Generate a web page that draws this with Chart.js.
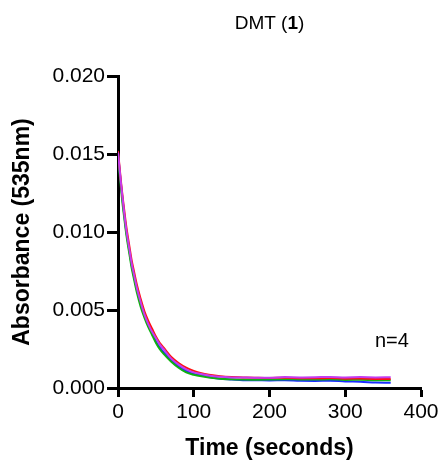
<!DOCTYPE html>
<html>
<head>
<meta charset="utf-8">
<script src="https://cdn.jsdelivr.net/npm/chart.js@4/dist/chart.umd.min.js"></script>
<style>
    html, body { margin: 0; padding: 0; background: #fff; }
    #wrap { width: 445px; height: 464px; }
</style>
</head>
<body>
<div id="wrap"><canvas id="kineticsChart" width="445" height="464"></canvas></div>
<script>
// Time points (seconds)
const times = [0, 2, 4, 6, 8, 10, 12, 15, 18, 21, 25, 30, 35, 40, 45, 50, 55, 60, 70, 80, 90, 100,
    110, 120, 135, 150, 165, 180, 200, 220, 240, 260, 280, 300, 320, 340, 360];

// Absorbance at 535nm for the four runs (n=4)
const runRed = [0.0152, 0.0142, 0.0132, 0.0123, 0.0115, 0.0107, 0.0100, 0.0091, 0.0082, 0.0075, 0.0066,
    0.0057, 0.0049, 0.0043, 0.0038, 0.0033, 0.0029, 0.0026, 0.0020, 0.0016, 0.0013, 0.0011,
    0.00095, 0.00085, 0.00075, 0.0007, 0.00068, 0.00066, 0.00064, 0.00066, 0.00063, 0.00062,
    0.00064, 0.0006, 0.00061, 0.00058, 0.00057];
const runBlue = [0.0151, 0.0140, 0.0130, 0.0121, 0.0112, 0.0104, 0.0097, 0.0088, 0.0079, 0.0072, 0.0063,
    0.0054, 0.0047, 0.0041, 0.0036, 0.0030, 0.0026, 0.0023, 0.0018, 0.0014, 0.0011, 0.0009,
    0.0008, 0.0007, 0.0006, 0.00055, 0.0005, 0.0005, 0.00048, 0.0005, 0.00046, 0.00045,
    0.00047, 0.00042, 0.0004, 0.00035, 0.00033];
const runGreen = [0.0150, 0.0138, 0.0128, 0.0118, 0.0110, 0.0102, 0.0095, 0.0086, 0.0077, 0.0070, 0.0061,
    0.0052, 0.0045, 0.0039, 0.0034, 0.0029, 0.0025, 0.0022, 0.0017, 0.0013, 0.0010, 0.00085,
    0.00075, 0.00068, 0.0006, 0.00056, 0.00054, 0.00053, 0.00054, 0.00056, 0.00055, 0.00054,
    0.00056, 0.00052, 0.00053, 0.0005, 0.0005];
const runPurple = [0.0151, 0.0141, 0.0131, 0.0122, 0.0113, 0.0105, 0.0098, 0.0089, 0.0080, 0.0073, 0.0064,
    0.0055, 0.0047, 0.0041, 0.0036, 0.0032, 0.0028, 0.0025, 0.0019, 0.0015, 0.0012, 0.0010,
    0.0009, 0.0008, 0.00072, 0.00068, 0.00067, 0.00066, 0.00066, 0.0007, 0.00068, 0.00069,
    0.00071, 0.00068, 0.0007, 0.00068, 0.00069];

// Axis ticks
const xTicks = [0, 100, 200, 300, 400];
const yTicks = [0, 0.005, 0.010, 0.015, 0.020];

function toPoints(values) {
    return values.map((v, i) => ({ x: times[i], y: v }));
}

function makeRun(values, color) {
    return {
        data: toPoints(values),
        borderColor: color,
        borderWidth: 2,
        pointRadius: 0,
        fill: false,
        cubicInterpolationMode: 'monotone'
    };
}

/**
 * Title with a bold compound number, plus the n=4 note
 */
const annotationsPlugin = {
    id: 'annotations',
    afterDraw(chart) {
        const ctx = chart.ctx;
        const area = chart.chartArea;
        ctx.save();
        ctx.fillStyle = '#000';
        ctx.textBaseline = 'middle';

        // "DMT (1)" with the 1 in bold
        const parts = [
            { text: 'DMT (', font: '19px "Liberation Sans", Arial, sans-serif' },
            { text: '1', font: 'bold 19px "Liberation Sans", Arial, sans-serif' },
            { text: ')', font: '19px "Liberation Sans", Arial, sans-serif' }
        ];
        let total = 0;
        parts.forEach(p => { ctx.font = p.font; p.w = ctx.measureText(p.text).width; total += p.w; });
        let x = (area.left + area.right) / 2 - total / 2;
        ctx.textAlign = 'left';
        parts.forEach(p => { ctx.font = p.font; ctx.fillText(p.text, x, 24); x += p.w; });

        ctx.font = '20px "Liberation Sans", Arial, sans-serif';
        ctx.fillText('n=4', 375, 341);
        ctx.restore();
    }
};

const axisFont = { family: '"Liberation Sans", Arial, sans-serif', size: 21 };
const titleFont = { family: '"Liberation Sans", Arial, sans-serif', size: 23, weight: 'bold' };

new Chart(document.getElementById('kineticsChart').getContext('2d'), {
    type: 'line',
    data: {
        datasets: [
            makeRun(runPurple, '#c43cf0'),
            makeRun(runRed, '#ff1010'),
            makeRun(runGreen, '#10b010'),
            makeRun(runBlue, '#1a2cff')
        ]
    },
    options: {
        responsive: false,
        animation: false,
        layout: { padding: { top: 76, right: 24, bottom: 0, left: 0 } },
        plugins: {
            legend: { display: false },
            tooltip: { enabled: false }
        },
        scales: {
            x: {
                type: 'linear',
                min: 0,
                max: 400,
                afterFit: scale => { scale.height = 76; },
                afterBuildTicks: scale => { scale.ticks = xTicks.map(v => ({ value: v })); },
                border: { color: '#000', width: 3 },
                grid: { drawOnChartArea: false, drawTicks: true, tickLength: 9, tickWidth: 3, tickColor: '#000' },
                ticks: { color: '#000', font: axisFont, padding: 3, maxRotation: 0 },
                title: { display: true, text: 'Time (seconds)', color: '#000', font: titleFont, padding: { top: 0, bottom: 2 } }
            },
            y: {
                type: 'linear',
                min: 0,
                max: 0.02,
                afterFit: scale => { scale.width = 118; },
                afterBuildTicks: scale => { scale.ticks = yTicks.map(v => ({ value: v })); },
                border: { color: '#000', width: 3 },
                grid: { drawOnChartArea: false, drawTicks: true, tickLength: 11, tickWidth: 3, tickColor: '#000' },
                ticks: {
                    color: '#000',
                    font: axisFont,
                    padding: 2,
                    callback: value => value.toFixed(3)
                },
                title: { display: true, text: 'Absorbance (535nm)', color: '#000', font: titleFont, padding: { top: 9, bottom: 0 } }
            }
        }
    },
    plugins: [annotationsPlugin]
});
</script>
</body>
</html>
